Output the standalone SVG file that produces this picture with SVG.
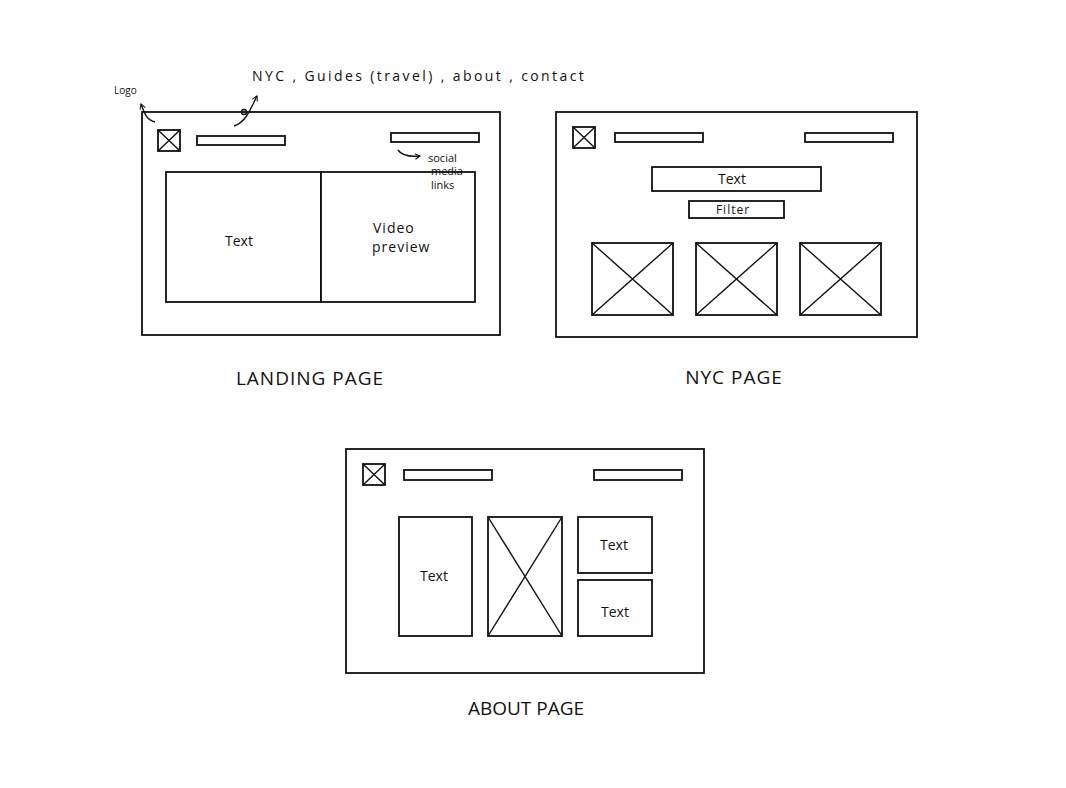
<svg xmlns="http://www.w3.org/2000/svg" width="1066" height="788" viewBox="0 0 1066 788">
<defs>
<style>
.f{fill:#fff;stroke:#111;stroke-width:1.8}
.l{stroke:#111;stroke-width:1.4;fill:none}
.c{fill:none;stroke:#111;stroke-width:1.4}
.t{font-family:"Open Sans","Liberation Sans",sans-serif;fill:#111;text-anchor:middle}
.s{font-size:14px}
.h{font-size:19px;letter-spacing:1px}
.a{font-size:11px;text-anchor:start}
</style>
<marker id="ah" viewBox="0 0 10 10" refX="8" refY="5" markerWidth="7" markerHeight="7" orient="auto-start-reverse" markerUnits="userSpaceOnUse">
<path d="M1,1 L8,5 L1,9" fill="none" stroke="#111" stroke-width="1.5"/>
</marker>
</defs>
<rect width="1066" height="788" fill="#fff"/>

<g id="landing">
<rect class="f" x="142" y="112" width="358" height="223"/>
<rect class="f" x="158" y="130" width="22" height="21"/>
<path class="l" d="M158,130 L180,151 M180,130 L158,151"/>
<rect class="f" x="197" y="136" width="88" height="9"/>
<rect class="f" x="391" y="133" width="88" height="9"/>
<rect class="f" x="166" y="172" width="155" height="130"/>
<rect class="f" x="321" y="172" width="154" height="130"/>
<text class="t s" x="239" y="246">Text</text>
<text class="t s" x="373" y="233" style="text-anchor:start;letter-spacing:1px">Video</text>
<text class="t s" x="372" y="252" style="text-anchor:start;letter-spacing:1px">preview</text>
<text class="t a" x="428" y="162">social</text>
<text class="t a" x="431" y="175">media</text>
<text class="t a" x="431" y="189">links</text>
<text class="t" x="114" y="94" style="font-size:10px;text-anchor:start">Logo</text>
<text class="t" x="252" y="81" style="font-size:14px;text-anchor:start;letter-spacing:2.4px">NYC , Guides (travel) , about , contact</text>
</g>

<g id="nyc">
<rect class="f" x="556" y="112" width="361" height="225"/>
<rect class="f" x="573" y="127" width="22" height="21"/>
<path class="l" d="M573,127 L595,148 M595,127 L573,148"/>
<rect class="f" x="615" y="133" width="88" height="9"/>
<rect class="f" x="805" y="133" width="88" height="9"/>
<rect class="f" x="652" y="167" width="169" height="24"/>
<text class="t s" x="732" y="184">Text</text>
<rect class="f" x="689" y="201" width="95" height="17"/>
<text class="t" x="733" y="214" style="font-size:12px;letter-spacing:1px">Filter</text>
<rect class="f" x="592" y="243" width="81" height="72"/>
<path class="l" d="M592,243 L673,315 M673,243 L592,315"/>
<rect class="f" x="696" y="243" width="81" height="72"/>
<path class="l" d="M696,243 L777,315 M777,243 L696,315"/>
<rect class="f" x="800" y="243" width="81" height="72"/>
<path class="l" d="M800,243 L881,315 M881,243 L800,315"/>
</g>

<g id="about">
<rect class="f" x="346" y="449" width="358" height="224"/>
<rect class="f" x="363" y="464" width="22" height="21"/>
<path class="l" d="M363,464 L385,485 M385,464 L363,485"/>
<rect class="f" x="404" y="470" width="88" height="10"/>
<rect class="f" x="594" y="470" width="88" height="10"/>
<rect class="f" x="399" y="517" width="73" height="119"/>
<text class="t s" x="434" y="581">Text</text>
<rect class="f" x="488" y="517" width="74" height="119"/>
<path class="l" d="M488,517 L562,636 M562,517 L488,636"/>
<rect class="f" x="578" y="517" width="74" height="56"/>
<text class="t s" x="614" y="550">Text</text>
<rect class="f" x="578" y="580" width="74" height="56"/>
<text class="t s" x="615" y="617">Text</text>
</g>

<g id="titles">
<text class="t h" x="310" y="385">LANDING PAGE</text>
<text class="t h" x="734" y="384">NYC PAGE</text>
<text class="t h" x="526" y="715" style="letter-spacing:0px">ABOUT PAGE</text>
</g>

<g id="connectors">
<path class="c" d="M155,122 C146,120 144,112 141,104" marker-end="url(#ah)"/>
<path class="c" d="M234,126 C246,122 250,110 257,96" marker-end="url(#ah)"/>
<circle class="c" cx="244" cy="112" r="2.5"/>
<path class="c" d="M398,150 C402,156 410,157 420,156" marker-end="url(#ah)"/>
</g>
</svg>
